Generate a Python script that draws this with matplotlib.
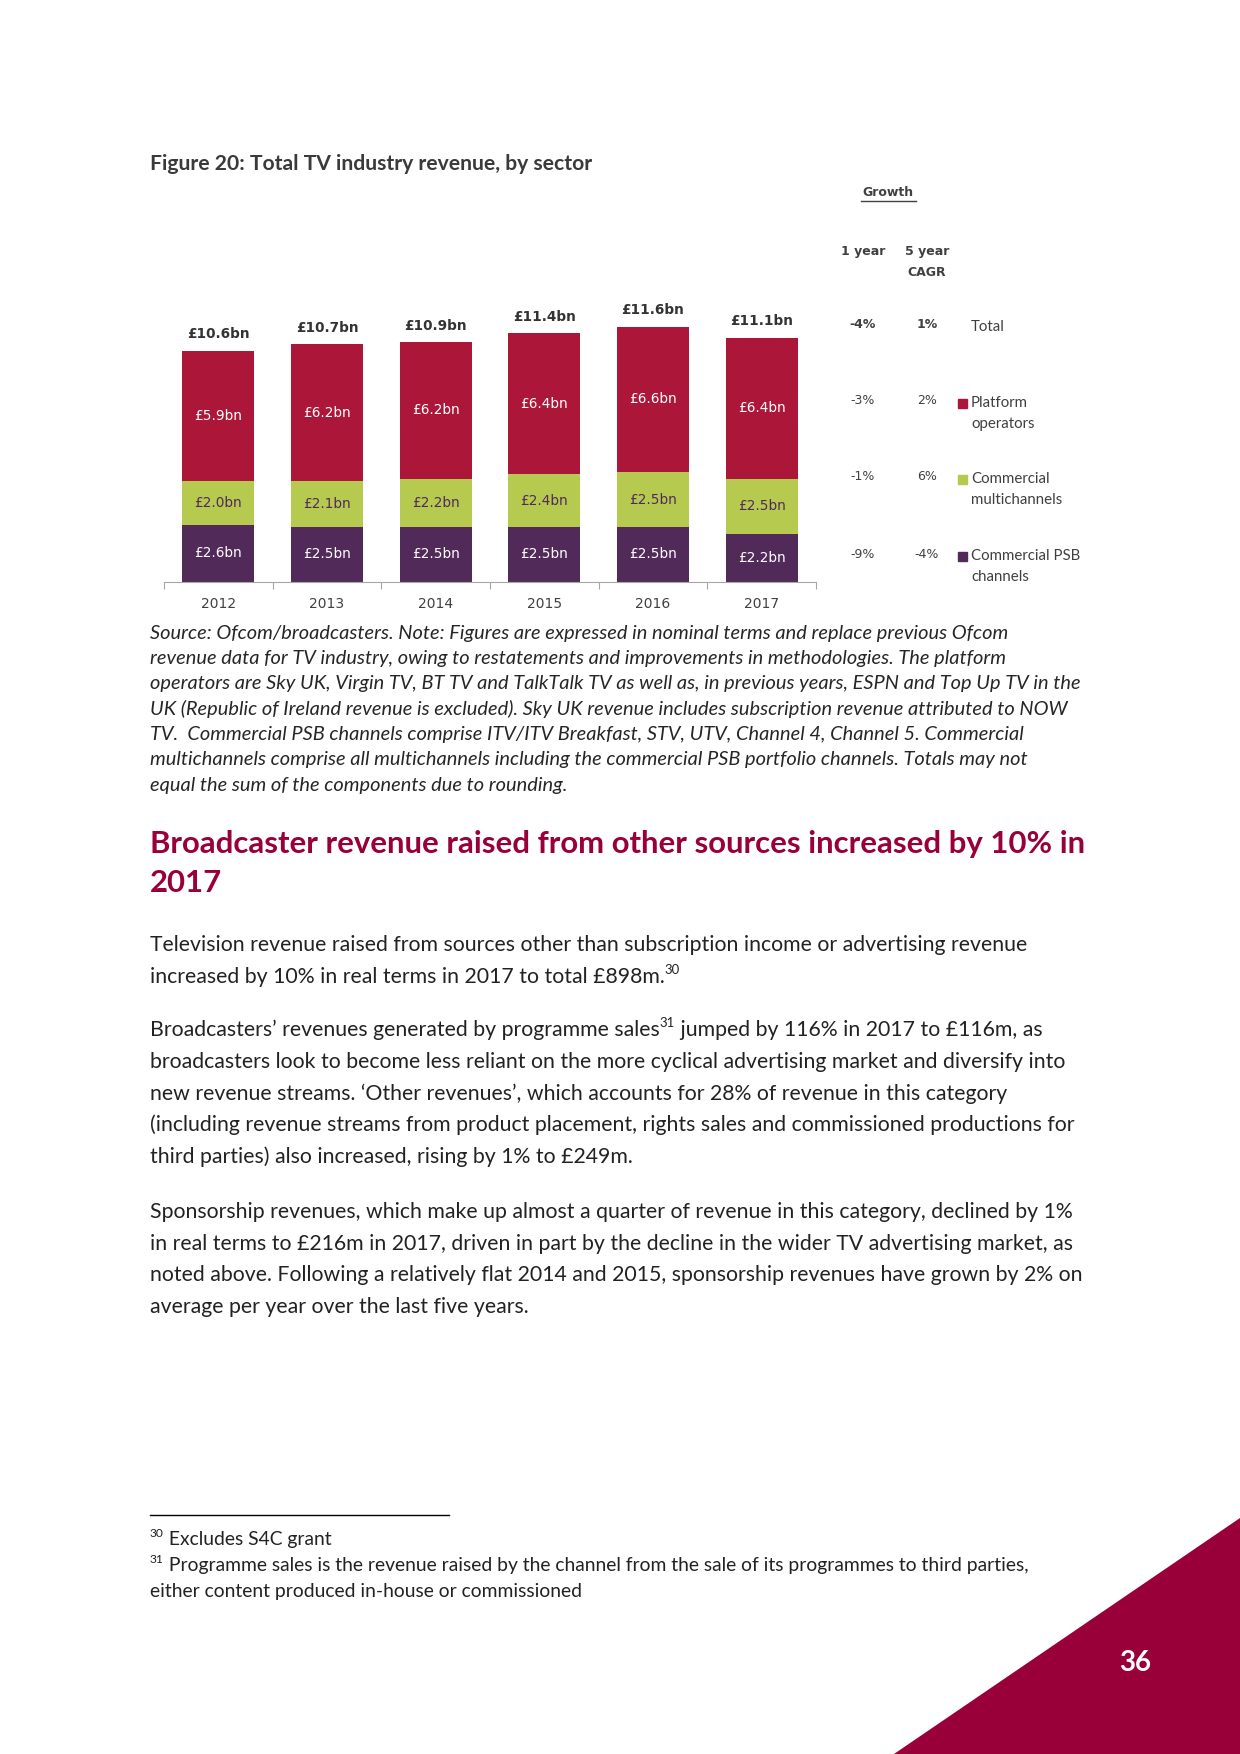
import matplotlib
matplotlib.use('Agg')
import matplotlib.pyplot as plt
from matplotlib.patches import Polygon, Rectangle
import numpy as np

# chart data
years = ['2012', '2013', '2014', '2015', '2016', '2017']
totals = [10.6, 10.7, 10.9, 11.4, 11.6, 11.1]
psb = [2.6, 2.5, 2.5, 2.5, 2.5, 2.2]
multichannels = [2.0, 2.1, 2.2, 2.4, 2.5, 2.5]
platform = [5.9, 6.2, 6.2, 6.4, 6.6, 6.4]

growth_rows = ['Total', 'Platform\noperators', 'Commercial\nmultichannels', 'Commercial PSB\nchannels']
growth_1yr = ['-4%', '-3%', '-1%', '-9%']
growth_cagr = ['1%', '2%', '6%', '-4%']

RED = '#ac1639'
GREEN = '#b6ca50'
PURPLE = '#522a5a'
CRIMSON = '#99003a'
BODY = 'Lato'
CHART = 'DejaVu Sans'

fig = plt.figure(figsize=(12.4, 17.54), dpi=100)
page = fig.add_axes([0, 0, 1, 1], zorder=-1)
page.set_xlim(0, 1240)
page.set_ylim(1754, 0)
page.axis('off')
renderer = fig.canvas.get_renderer()


def write_runs(x, y, parts, size, color='#222222', **kw):
    # text with superscript pieces, placed one after the other
    for txt, sup in parts:
        if sup:
            t = page.text(x, y - size * 1.389 * 0.33, txt, fontsize=size * 0.62,
                          family=BODY, color=color, va='center', **kw)
        else:
            t = page.text(x, y, txt, fontsize=size, family=BODY, color=color,
                          va='center', **kw)
        x += t.get_window_extent(renderer).width


# figure title
page.text(150, 164, 'Figure 20: Total TV industry revenue, by sector', fontsize=15.2,
          family=BODY, fontweight='bold', color='#3a3a3a', va='center')

# stacked bars
ax = fig.add_axes([164 / 1240, 1 - 582 / 1754, 652 / 1240, 264 / 1754])
ax.set_facecolor('none')
x = np.arange(len(years))
w = 0.66
b1 = np.array(psb)
b2 = b1 + np.array(multichannels)
b3 = b2 + np.array(platform)
ax.bar(x, psb, w, color=PURPLE)
ax.bar(x, multichannels, w, bottom=b1, color=GREEN)
ax.bar(x, platform, w, bottom=b2, color=RED)

for i in range(len(years)):
    ax.text(i, psb[i] / 2, f'£{psb[i]:.1f}bn', ha='center', va='center',
            color='white', fontsize=9.8, family=CHART)
    ax.text(i, b1[i] + multichannels[i] / 2, f'£{multichannels[i]:.1f}bn', ha='center',
            va='center', color=PURPLE, fontsize=9.8, family=CHART)
    ax.text(i, b2[i] + platform[i] / 2, f'£{platform[i]:.1f}bn', ha='center', va='center',
            color='white', fontsize=9.8, family=CHART)
    ax.annotate(f'£{totals[i]:.1f}bn', (i, b3[i]), xytext=(0, 12), textcoords='offset points',
                ha='center', va='center', fontsize=9.8, fontweight='bold',
                color='#333333', family=CHART)

ax.set_xlim(-0.5, 5.5)
ax.set_ylim(0, 12)
for s in ['top', 'right', 'left']:
    ax.spines[s].set_visible(False)
ax.spines['bottom'].set_color('#a6a6a6')
ax.set_yticks([])
ax.set_xticks(np.arange(-0.5, 6, 1))
ax.set_xticklabels([])
ax.tick_params(axis='x', which='major', length=5, color='#a6a6a6', direction='out')
ax.set_xticks(x, minor=True)
ax.set_xticklabels(years, minor=True, fontsize=10, family=CHART, color='#404040')
ax.tick_params(axis='x', which='minor', length=0, pad=11)

# growth table
page.text(888, 193, 'Growth', fontsize=9, fontweight='bold', family=CHART,
          color='#404040', ha='center', va='center')
page.plot([861, 916], [201, 201], color='#404040', lw=1)
page.text(863, 252, '1 year', fontsize=9, fontweight='bold', family=CHART,
          color='#404040', ha='center', va='center')
page.text(927, 252, '5 year', fontsize=9, fontweight='bold', family=CHART,
          color='#404040', ha='center', va='center')
page.text(927, 272, 'CAGR', fontsize=9, fontweight='bold', family=CHART,
          color='#404040', ha='center', va='center')

row_y = [325, 401, 477, 554]
row_col = [None, RED, GREEN, PURPLE]
for k in range(len(growth_rows)):
    wt = 'bold' if k == 0 else 'normal'
    page.text(863, row_y[k], growth_1yr[k], fontsize=9, fontweight=wt, family=CHART,
              color='#404040', ha='center', va='center')
    page.text(927, row_y[k], growth_cagr[k], fontsize=9, fontweight=wt, family=CHART,
              color='#404040', ha='center', va='center')
    lines = growth_rows[k].split('\n')
    for j, ln in enumerate(lines):
        page.text(971, row_y[k] + 2 + 21 * j, ln, fontsize=10.8, family=BODY,
                  color='#404040', va='center')
    if row_col[k]:
        page.add_patch(Rectangle((958, row_y[k] - 2.5), 9, 9, color=row_col[k]))

# source note
note = [
    'Source: Ofcom/broadcasters. Note: Figures are expressed in nominal terms and replace previous Ofcom',
    'revenue data for TV industry, owing to restatements and improvements in methodologies. The platform',
    'operators are Sky UK, Virgin TV, BT TV and TalkTalk TV as well as, in previous years, ESPN and Top Up TV in the',
    'UK (Republic of Ireland revenue is excluded). Sky UK revenue includes subscription revenue attributed to NOW',
    'TV.  Commercial PSB channels comprise ITV/ITV Breakfast, STV, UTV, Channel 4, Channel 5. Commercial',
    'multichannels comprise all multichannels including the commercial PSB portfolio channels. Totals may not',
    'equal the sum of the components due to rounding.',
]
for i, ln in enumerate(note):
    page.text(150, 633 + 25.4 * i, ln, fontsize=14.4, family=BODY, style='italic',
              color='#262626', va='center')

# heading
page.text(150, 844, 'Broadcaster revenue raised from other sources increased by 10% in',
          fontsize=22.4, family=BODY, fontweight='bold', color=CRIMSON, va='center')
page.text(150, 883, '2017', fontsize=22.4, family=BODY, fontweight='bold', color=CRIMSON,
          va='center')

# body text
bs = 15.3
ls = 31.7
write_runs(150, 945, [('Television revenue raised from sources other than subscription income or advertising revenue', False)], bs)
write_runs(150, 945 + ls, [('increased by 10% in real terms in 2017 to total £898m.', False), ('30', True)], bs)

y0 = 1030
write_runs(150, y0, [('Broadcasters’ revenues generated by programme sales', False), ('31', True),
                     (' jumped by 116% in 2017 to £116m, as', False)], bs)
para2 = [
    'broadcasters look to become less reliant on the more cyclical advertising market and diversify into',
    'new revenue streams. ‘Other revenues’, which accounts for 28% of revenue in this category',
    '(including revenue streams from product placement, rights sales and commissioned productions for',
    'third parties) also increased, rising by 1% to £249m.',
]
for i, ln in enumerate(para2):
    write_runs(150, y0 + ls * (i + 1), [(ln, False)], bs)

para3 = [
    'Sponsorship revenues, which make up almost a quarter of revenue in this category, declined by 1%',
    'in real terms to £216m in 2017, driven in part by the decline in the wider TV advertising market, as',
    'noted above. Following a relatively flat 2014 and 2015, sponsorship revenues have grown by 2% on',
    'average per year over the last five years.',
]
for i, ln in enumerate(para3):
    write_runs(150, 1212 + ls * i, [(ln, False)], bs)

# footnotes
page.plot([150, 449], [1515, 1515], color='black', lw=1)
fs = 13.9
write_runs(150, 1540, [('30', True), (' Excludes S4C grant', False)], fs)
write_runs(150, 1566, [('31', True), (' Programme sales is the revenue raised by the channel from the sale of its programmes to third parties,', False)], fs)
write_runs(150, 1591, [('either content produced in-house or commissioned', False)], fs)

# page corner
page.add_patch(Polygon([(894, 1754), (1240, 1518), (1240, 1754)], closed=True,
                       color=CRIMSON, lw=0))
page.text(1135, 1663, '36', fontsize=20, family=BODY, fontweight='bold', color='white',
          ha='center', va='center')

fig.savefig('out.png', dpi=100)
